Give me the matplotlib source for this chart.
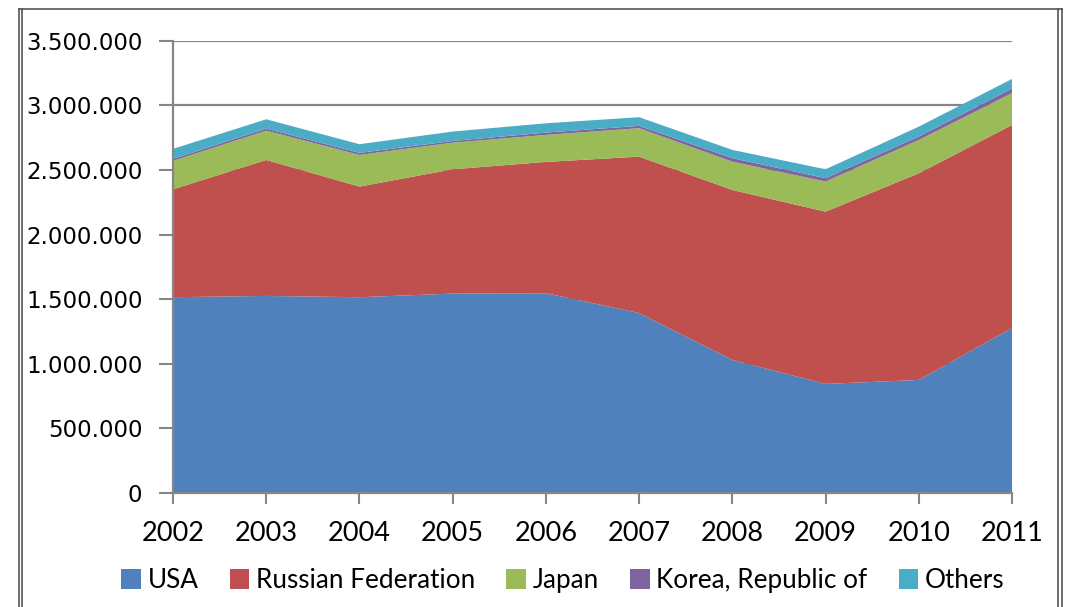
import matplotlib
matplotlib.use("Agg")
from matplotlib import pyplot as plt
from matplotlib.lines import Line2D
from matplotlib.patches import Patch
import matplotlib.ticker as mticker

years = [2002, 2003, 2004, 2005, 2006, 2007, 2008, 2009, 2010, 2011]
usa = [1515000, 1525000, 1515000, 1543000, 1546000, 1393000, 1030000, 844000, 875000, 1277000]
russia = [835000, 1052000, 856000, 962000, 1016000, 1210000, 1315000, 1333000, 1599000, 1571000]
japan = [220000, 227000, 245000, 206000, 209000, 220000, 219000, 233000, 258000, 246000]
korea = [15000, 16000, 16000, 13000, 18000, 18000, 27000, 26000, 26000, 36000]
others = [78000, 72000, 67000, 73000, 72000, 67000, 64000, 69000, 77000, 74000]

names = ["USA", "Russian Federation", "Japan", "Korea, Republic of", "Others"]
colors = ["#4F81BD", "#C0504D", "#9BBB59", "#8064A2", "#4BACC6"]

grid_col = "#868686"

fig = plt.figure(figsize=(10.68, 6.07), dpi=100)
ax = fig.add_axes([173/1068, 1-493/607, (1012-173)/1068, (493-40.7)/607])

ax.stackplot(years, usa, russia, japan, korea, others, colors=colors, linewidth=0)

ax.set_xlim(2002, 2011)
ax.set_ylim(0, 3500000)
ax.set_yticks(range(0, 3500001, 500000))
ax.set_xticks(years)
ax.yaxis.set_major_formatter(mticker.FuncFormatter(lambda v, p: "{:,}".format(int(v)).replace(",", ".")))

ax.grid(axis="y", color=grid_col, linewidth=1.6)
ax.set_axisbelow(True)
for s in ["top", "right"]:
    ax.spines[s].set_visible(False)
for s in ["left", "bottom"]:
    ax.spines[s].set_color(grid_col)
    ax.spines[s].set_linewidth(1.6)
    ax.spines[s].set_zorder(3)

ax.tick_params(axis="y", direction="out", length=10, width=1.5, color=grid_col,
               pad=12, labelsize=16.5, labelcolor="black")
ax.tick_params(axis="x", direction="out", length=8, width=1.5, color=grid_col,
               pad=12, labelsize=19.5, labelcolor="black")
for lab in ax.get_xticklabels():
    lab.set_family(["Lato", "DejaVu Sans"])

handles = [Patch(facecolor=c, edgecolor="none") for c in colors]
fig.legend(handles, names, loc="center", bbox_to_anchor=(0.527, 0.043), ncol=5,
           frameon=False, handlelength=0.75, handleheight=0.8, handletextpad=0.25,
           columnspacing=1.2, prop={"family": ["Lato", "DejaVu Sans"], "size": 18.8})

# outer frame
def fline(x0, y0, x1, y1):
    fig.add_artist(Line2D([x0/1068, x1/1068], [1-y0/607, 1-y1/607],
                          transform=fig.transFigure, color="#555555", linewidth=1.2))

fline(19, 9, 19, 607)
fline(22, 9, 22, 607)
fline(1058, 9, 1058, 607)
fline(1062, 9, 1062, 607)
fline(19, 9, 1062, 9)

fig.savefig("out.png", dpi=100)
plt.close("all")
